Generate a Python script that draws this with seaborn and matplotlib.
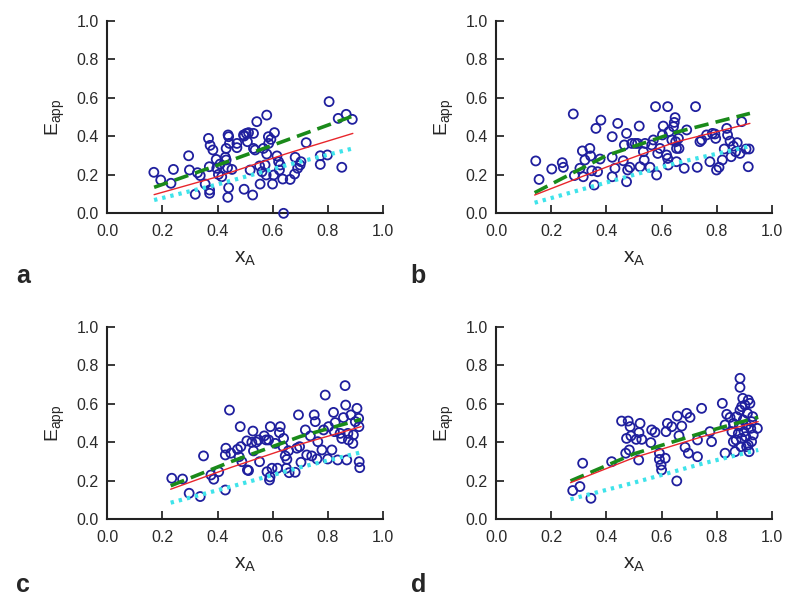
import numpy as np
import pandas as pd
import seaborn as sns
import matplotlib.pyplot as plt

# scatter points, panel a
a_x = [0.169, 0.194, 0.231, 0.240, 0.295, 0.298, 0.319, 0.327, 0.337, 0.355, 0.367, 0.371, 0.371,
       0.373, 0.383, 0.370, 0.395, 0.403, 0.409, 0.415, 0.428, 0.431, 0.436, 0.438, 0.440, 0.443,
       0.440, 0.437, 0.452, 0.470, 0.470, 0.496, 0.494, 0.504, 0.508, 0.512, 0.518, 0.527, 0.530,
       0.536, 0.542, 0.552, 0.554, 0.566, 0.572, 0.578, 0.584, 0.578, 0.576, 0.593, 0.599, 0.603,
       0.606, 0.615, 0.621, 0.624, 0.627, 0.636, 0.639, 0.663, 0.679, 0.681, 0.690, 0.699, 0.702,
       0.721, 0.772, 0.772, 0.798, 0.804, 0.850, 0.837, 0.866, 0.888, 0.397, 0.496, 0.530, 0.585,
       0.561, 0.431]
a_y = [0.213, 0.173, 0.156, 0.228, 0.299, 0.225, 0.099, 0.211, 0.196, 0.152, 0.389, 0.104, 0.121,
       0.353, 0.329, 0.242, 0.280, 0.202, 0.256, 0.190, 0.291, 0.337, 0.237, 0.407, 0.398, 0.363,
       0.133, 0.083, 0.228, 0.363, 0.341, 0.125, 0.407, 0.415, 0.372, 0.419, 0.225, 0.095, 0.415,
       0.329, 0.476, 0.246, 0.152, 0.337, 0.251, 0.510, 0.398, 0.308, 0.199, 0.384, 0.152, 0.199,
       0.419, 0.298, 0.268, 0.225, 0.251, 0.178, 0.000, 0.176, 0.204, 0.291, 0.234, 0.251, 0.268,
       0.367, 0.254, 0.299, 0.303, 0.580, 0.239, 0.493, 0.514, 0.488, 0.234, 0.401, 0.337, 0.363,
       0.216, 0.277]

# panel b
b_x = [0.144, 0.156, 0.202, 0.240, 0.244, 0.280, 0.284, 0.304, 0.313, 0.316, 0.322, 0.340, 0.343,
       0.347, 0.356, 0.362, 0.368, 0.377, 0.380, 0.421, 0.421, 0.421, 0.431, 0.441, 0.461, 0.465,
       0.473, 0.473, 0.477, 0.485, 0.492, 0.504, 0.513, 0.519, 0.522, 0.534, 0.537, 0.540, 0.558,
       0.564, 0.570, 0.578, 0.582, 0.586, 0.594, 0.603, 0.606, 0.618, 0.622, 0.622, 0.624, 0.627,
       0.637, 0.643, 0.646, 0.649, 0.651, 0.654, 0.654, 0.661, 0.663, 0.682, 0.691, 0.723, 0.729,
       0.739, 0.745, 0.763, 0.775, 0.784, 0.793, 0.796, 0.799, 0.808, 0.820, 0.827, 0.836, 0.839,
       0.848, 0.852, 0.860, 0.868, 0.874, 0.884, 0.890, 0.906, 0.914, 0.917]
b_y = [0.272, 0.176, 0.230, 0.263, 0.239, 0.516, 0.196, 0.234, 0.324, 0.190, 0.277, 0.337, 0.298,
       0.221, 0.147, 0.441, 0.216, 0.282, 0.484, 0.398, 0.291, 0.190, 0.234, 0.467, 0.273, 0.355,
       0.415, 0.164, 0.225, 0.239, 0.363, 0.363, 0.363, 0.453, 0.242, 0.320, 0.277, 0.363, 0.239,
       0.355, 0.381, 0.554, 0.199, 0.311, 0.337, 0.407, 0.453, 0.303, 0.554, 0.285, 0.251, 0.424,
       0.381, 0.450, 0.472, 0.497, 0.372, 0.337, 0.268, 0.389, 0.337, 0.234, 0.433, 0.554, 0.239,
       0.372, 0.381, 0.407, 0.268, 0.415, 0.412, 0.389, 0.225, 0.239, 0.277, 0.334, 0.441, 0.407,
       0.375, 0.294, 0.349, 0.320, 0.367, 0.311, 0.476, 0.334, 0.242, 0.334]

# panel c
c_x = [0.234, 0.273, 0.297, 0.337, 0.349, 0.376, 0.386, 0.404, 0.428, 0.428, 0.430, 0.443, 0.448,
       0.472, 0.478, 0.482, 0.484, 0.488, 0.506, 0.508, 0.512, 0.524, 0.528, 0.530, 0.540, 0.548,
       0.552, 0.569, 0.576, 0.579, 0.585, 0.588, 0.591, 0.597, 0.609, 0.617, 0.624, 0.627, 0.637,
       0.639, 0.645, 0.649, 0.651, 0.657, 0.659, 0.681, 0.687, 0.693, 0.697, 0.702, 0.718, 0.723,
       0.736, 0.741, 0.750, 0.754, 0.760, 0.763, 0.778, 0.784, 0.790, 0.799, 0.802, 0.814, 0.820,
       0.823, 0.826, 0.835, 0.844, 0.850, 0.856, 0.862, 0.864, 0.868, 0.872, 0.874, 0.883, 0.890,
       0.892, 0.905, 0.911, 0.913, 0.915, 0.912, 0.899, 0.590]
c_y = [0.213, 0.209, 0.135, 0.118, 0.329, 0.230, 0.208, 0.247, 0.152, 0.334, 0.369, 0.567, 0.343,
       0.363, 0.325, 0.481, 0.377, 0.299, 0.407, 0.256, 0.253, 0.400, 0.458, 0.355, 0.401, 0.412,
       0.299, 0.433, 0.412, 0.247, 0.412, 0.204, 0.481, 0.265, 0.394, 0.265, 0.450, 0.481, 0.377,
       0.420, 0.329, 0.265, 0.311, 0.356, 0.242, 0.244, 0.369, 0.542, 0.377, 0.296, 0.464, 0.334,
       0.433, 0.329, 0.542, 0.507, 0.313, 0.403, 0.360, 0.464, 0.645, 0.313, 0.481, 0.360, 0.555,
       0.455, 0.502, 0.308, 0.446, 0.420, 0.528, 0.694, 0.593, 0.308, 0.446, 0.412, 0.542, 0.394,
       0.438, 0.576, 0.524, 0.299, 0.268, 0.481, 0.507, 0.220]

# panel d
d_x = [0.278, 0.304, 0.314, 0.344, 0.419, 0.455, 0.479, 0.486, 0.473, 0.489, 0.483, 0.470, 0.508,
       0.518, 0.522, 0.528, 0.517, 0.561, 0.564, 0.576, 0.592, 0.592, 0.598, 0.600, 0.613, 0.616,
       0.621, 0.637, 0.655, 0.657, 0.663, 0.673, 0.685, 0.691, 0.697, 0.703, 0.730, 0.730, 0.745,
       0.775, 0.781, 0.820, 0.830, 0.830, 0.836, 0.848, 0.855, 0.860, 0.866, 0.870, 0.872, 0.878,
       0.882, 0.884, 0.884, 0.884, 0.888, 0.890, 0.894, 0.896, 0.899, 0.902, 0.905, 0.908, 0.911,
       0.914, 0.917, 0.920, 0.923, 0.926, 0.930, 0.932, 0.947, 0.926, 0.908, 0.890, 0.914, 0.860]
d_y = [0.149, 0.170, 0.291, 0.109, 0.299, 0.510, 0.510, 0.481, 0.420, 0.433, 0.360, 0.343, 0.415,
       0.450, 0.498, 0.415, 0.308, 0.398, 0.464, 0.452, 0.343, 0.311, 0.282, 0.256, 0.317, 0.455,
       0.498, 0.481, 0.199, 0.536, 0.434, 0.484, 0.374, 0.550, 0.343, 0.529, 0.412, 0.325, 0.576,
       0.455, 0.403, 0.602, 0.343, 0.490, 0.545, 0.529, 0.455, 0.498, 0.351, 0.412, 0.533, 0.446,
       0.484, 0.732, 0.685, 0.567, 0.377, 0.420, 0.628, 0.516, 0.455, 0.593, 0.429, 0.490, 0.550,
       0.619, 0.351, 0.602, 0.472, 0.403, 0.533, 0.438, 0.472, 0.507, 0.377, 0.585, 0.386, 0.403]

# model curves (x positions, then dashed / solid / dotted values)
a_lx = [0.17, 0.40, 0.65, 0.89]
a_green = [0.135, 0.25, 0.38, 0.505]
a_red = [0.097, 0.19, 0.31, 0.415]
a_cyan = [0.069, 0.15, 0.25, 0.337]

b_lx = [0.14, 0.40, 0.65, 0.92]
b_green = [0.107, 0.30, 0.42, 0.519]
b_red = [0.095, 0.24, 0.37, 0.467]
b_cyan = [0.055, 0.16, 0.26, 0.349]

c_lx = [0.23, 0.45, 0.70, 0.92]
c_green = [0.174, 0.30, 0.43, 0.519]
c_red = [0.156, 0.27, 0.39, 0.481]
c_cyan = [0.086, 0.17, 0.27, 0.348]

d_lx = [0.27, 0.50, 0.75, 0.95]
d_green = [0.199, 0.34, 0.45, 0.53]
d_red = [0.19, 0.32, 0.43, 0.507]
d_cyan = [0.104, 0.19, 0.29, 0.36]

ticks = [0.0, 0.2, 0.4, 0.6, 0.8, 1.0]
tick_labels = ["0.0", "0.2", "0.4", "0.6", "0.8", "1.0"]

sns.set_theme(style="ticks")
plt.rcParams['font.family'] = ['Liberation Sans', 'DejaVu Sans']

fig = plt.figure(figsize=(8, 6.05), dpi=100)

panels = [
    ("a", [0.134, 0.6474, 0.345, 0.3183], a_x, a_y, a_lx, a_green, a_red, a_cyan, (0.029, 0.543)),
    ("b", [0.620, 0.6474, 0.345, 0.3183], b_x, b_y, b_lx, b_green, b_red, b_cyan, (0.523, 0.543)),
    ("c", [0.134, 0.1417, 0.345, 0.3183], c_x, c_y, c_lx, c_green, c_red, c_cyan, (0.029, 0.033)),
    ("d", [0.620, 0.1417, 0.345, 0.3183], d_x, d_y, d_lx, d_green, d_red, d_cyan, (0.523, 0.033)),
]

for letter, pos, px, py, lx, lg, lr, lc, lpos in panels:
    ax = fig.add_axes(pos)
    sns.scatterplot(x=px, y=py, ax=ax, marker='o', s=42, facecolor='none',
                    edgecolor='#1f1f9e', linewidth=1.3, zorder=3, clip_on=False)
    sns.lineplot(x=lx, y=lg, ax=ax, color='#1a8a1a', linestyle=(0, (4, 2)), linewidth=2.6, zorder=4)
    sns.lineplot(x=lx, y=lr, ax=ax, color='#e8262c', linewidth=1.0, zorder=4)
    sns.lineplot(x=lx, y=lc, ax=ax, color='#3fe3ea', linestyle=(0, (0.8, 1.2)), linewidth=3.0, zorder=4)
    ax.set_xlim(0, 1)
    ax.set_ylim(0, 1)
    ax.set_xticks(ticks)
    ax.set_xticklabels(tick_labels)
    ax.set_yticks(ticks)
    ax.set_yticklabels(tick_labels)
    ax.tick_params(direction='in', length=6, width=1.3, labelsize=11.5, colors='#2a2a2a')
    ax.tick_params(axis='x', pad=8)
    ax.tick_params(axis='y', pad=6)
    sns.despine(ax=ax)
    for s in ['left', 'bottom']:
        ax.spines[s].set_linewidth(1.5)
        ax.spines[s].set_color('#222222')
    ax.set_xlabel('x$_\\mathregular{A}$', fontsize=15, labelpad=7)
    ax.set_ylabel('E$_\\mathregular{app}$', fontsize=14, labelpad=7)
    fig.text(lpos[0], lpos[1], letter, fontsize=18, fontweight='bold', ha='center', va='center')

fig.savefig('out.png', dpi=100)
